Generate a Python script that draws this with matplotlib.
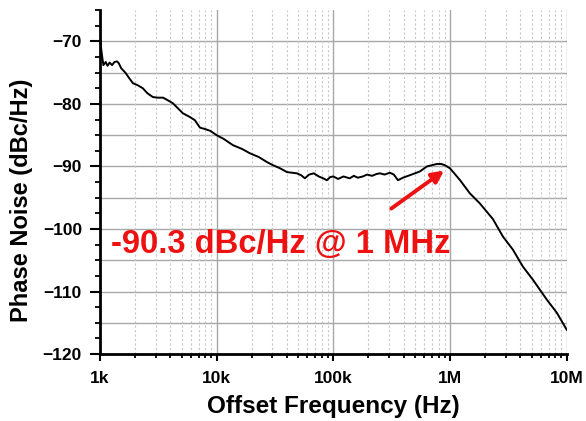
import numpy as np
import matplotlib.pyplot as plt
from matplotlib.ticker import MultipleLocator, LogLocator, NullFormatter

plt.rcParams['font.family'] = ['Liberation Sans', 'DejaVu Sans']

# offset frequency (Hz) and phase noise (dBc/Hz)
freq = [1.00e3, 1.02e3, 1.04e3, 1.07e3, 1.12e3, 1.16e3, 1.21e3, 1.27e3, 1.33e3,
        1.40e3, 1.45e3, 1.52e3, 1.65e3, 1.80e3, 1.92e3, 2.10e3, 2.33e3, 2.55e3,
        2.84e3, 3.10e3, 3.47e3, 3.80e3, 4.22e3, 4.60e3, 5.14e3, 5.90e3, 6.50e3,
        7.20e3, 7.90e3, 8.80e3, 1.00e4, 1.15e4, 1.38e4, 1.65e4, 1.93e4, 2.30e4,
        2.70e4, 3.04e4, 3.50e4, 4.00e4, 4.87e4, 5.30e4, 5.70e4, 6.20e4, 6.80e4,
        7.50e4, 8.20e4, 8.80e4, 9.40e4, 1.00e5, 1.10e5, 1.22e5, 1.38e5, 1.50e5,
        1.62e5, 1.79e5, 1.95e5, 2.15e5, 2.35e5, 2.51e5, 2.75e5, 3.05e5, 3.30e5,
        3.58e5, 3.95e5, 4.53e5, 5.00e5, 5.52e5, 6.34e5, 7.00e5, 7.72e5, 8.40e5,
        9.04e5, 1.00e6, 1.10e6, 1.22e6, 1.48e6, 1.80e6, 2.33e6, 2.84e6, 3.46e6,
        4.21e6, 5.13e6, 6.76e6, 8.24e6, 1.00e7]
pn = [-69.3, -70.9, -72.2, -73.8, -73.3, -73.9, -73.4, -73.8, -73.3,
      -73.2, -73.5, -74.3, -75.0, -76.0, -76.7, -77.0, -77.5, -78.3,
      -78.9, -79.0, -79.0, -79.4, -79.9, -80.6, -81.5, -82.1, -82.6,
      -83.8, -84.0, -84.3, -85.0, -85.6, -86.6, -87.2, -87.9, -88.5,
      -89.3, -89.8, -90.3, -90.9, -91.1, -91.4, -91.9, -91.3, -91.1,
      -91.6, -91.9, -92.2, -91.7, -91.6, -92.0, -91.6, -91.9, -91.5,
      -91.8, -91.6, -91.3, -91.5, -91.2, -91.1, -91.3, -91.0, -91.3,
      -92.2, -91.8, -91.4, -91.1, -90.8, -90.0, -89.8, -89.6, -89.6,
      -89.8, -90.3, -91.2, -92.2, -94.3, -95.9, -98.4, -101.2, -103.3,
      -106.0, -108.1, -111.3, -113.4, -116.1]

ytick_vals = [-120, -110, -100, -90, -80, -70]
xtick_vals = [1e3, 1e4, 1e5, 1e6, 1e7]
xtick_labels = ['1k', '10k', '100k', '1M', '10M']

fig = plt.figure(figsize=(5.86, 4.21), dpi=100)
ax = fig.add_axes([0.1706, 0.159, 0.7964, 0.817])

ax.semilogx(freq, pn, color='black', linewidth=1.4, zorder=3)

ax.set_xlim(1e3, 1e7)
ax.set_ylim(-120, -65)

ax.set_xticks(xtick_vals)
ax.set_xticklabels(xtick_labels)
ax.xaxis.set_minor_locator(LogLocator(base=10, subs=np.arange(2, 10)))
ax.xaxis.set_minor_formatter(NullFormatter())
ax.set_yticks(ytick_vals)
ax.yaxis.set_minor_locator(MultipleLocator(2.5))

for lab in ax.get_xticklabels() + ax.get_yticklabels():
    lab.set_fontweight('bold')
    lab.set_fontsize(12.5)

ax.tick_params(axis='x', which='major', direction='out', length=5, width=1.5, pad=7)
ax.tick_params(axis='x', which='minor', direction='out', length=3, width=1.3)
ax.tick_params(axis='y', which='major', direction='out', length=7, width=1.5, pad=6)
ax.tick_params(axis='y', which='minor', direction='out', length=3.5, width=1.3)

# grid: solid grey on decades and 5 dB, dotted on minor decades
ax.grid(True, which='major', axis='x', color='#a8a8a8', linewidth=1.0, linestyle='-')
ax.grid(True, which='minor', axis='x', color='#c8c8c8', linewidth=0.8, linestyle=(0, (2, 2)))
for yv in np.arange(-115, -65, 5):
    ax.axhline(yv, color='#a8a8a8', linewidth=1.0, zorder=1)

for side in ['top', 'right']:
    ax.spines[side].set_visible(False)
for side in ['left', 'bottom']:
    ax.spines[side].set_linewidth(2)

ax.set_xlabel('Offset Frequency (Hz)', fontsize=17.5, fontweight='bold', labelpad=7)
ax.set_ylabel('Phase Noise (dBc/Hz)', fontsize=17, fontweight='bold')
ax.yaxis.set_label_coords(-0.1436, 0.448)

ax.annotate('', xy=(9.3e5, -90.4), xytext=(3.0e5, -97.0),
            arrowprops=dict(arrowstyle='-|>,head_length=0.7,head_width=0.35',
                            color='#ee1111', lw=2.8), zorder=4)
ax.text(1.24e3, -102.5, '-90.3 dBc/Hz @ 1 MHz', color='#ee1111', fontsize=23.6,
        fontweight='bold', ha='left', va='center', zorder=4)

fig.savefig('out.png', dpi=100)
